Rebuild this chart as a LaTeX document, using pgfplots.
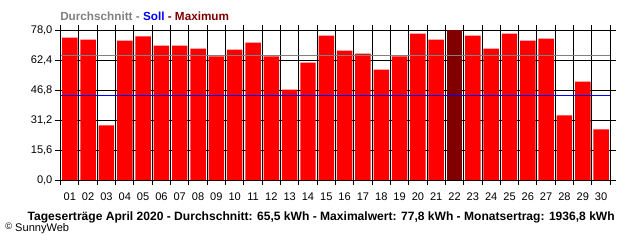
\documentclass[border=0pt]{standalone}
\usepackage{pgfplots}
\pgfplotsset{compat=1.18}
\usepackage{fontspec}
\setmainfont{Liberation Sans}
\definecolor{barred}{RGB}{255,0,0}
\definecolor{maxred}{RGB}{128,0,0}
\definecolor{avggray}{RGB}{128,128,128}
\definecolor{sollblue}{RGB}{0,0,255}
\begin{document}
\begin{tikzpicture}
\path[use as bounding box] (0,0) rectangle (480pt,180pt);
\begin{axis}[
  at={(45.5pt,45pt)}, anchor=south west,
  scale only axis, width=412.2pt, height=112.5pt,
  xmin=0.5, xmax=30.5, ymin=0, ymax=78,
  ybar, bar width=11.6pt, bar shift=0pt,
  axis line style={black, line width=0.75pt},
  xtick={1,...,30},
  xticklabels={01,02,03,04,05,06,07,08,09,10,11,12,13,14,15,16,17,18,19,20,21,22,23,24,25,26,27,28,29,30},
  minor xtick={0.5,1.5,...,30.5},
  xminorgrids, ymajorgrids,
  minor x grid style={black, line width=0.75pt},
  y grid style={black, line width=0.75pt},
  ytick={0,15.6,31.2,46.8,62.4,78},
  yticklabel={\pgfmathprintnumber[fixed,fixed zerofill,precision=1,use comma]{\tick}},
  tick align=outside,
  major x tick style={draw=none},
  minor x tick style={black, line width=0.75pt},
  minor tick length=3.75pt,
  major tick length=4.5pt,
  ytick style={black, line width=0.75pt},
  /pgf/number format/assume math mode=true,
  tick label style={font=\fontsize{8.3pt}{9pt}\selectfont, inner sep=0pt},
  xticklabel style={anchor=north, yshift=-5.25pt},
  yticklabel style={anchor=east, xshift=-1.5pt},
  axis on top=false,
]
\addplot[fill=barred, draw=none] coordinates {
(1,74.1) (2,73.0) (3,28.4) (4,72.5) (5,74.7) (6,69.9) (7,69.9) (8,68.3) (9,64.3) (10,67.8)
(11,71.5) (12,64.3) (13,47.0) (14,61.1) (15,75.1) (16,67.3) (17,65.7) (18,57.4) (19,64.3) (20,76.1)
(21,73.0) (23,75.1) (24,68.3) (25,76.1) (26,72.5) (27,73.5) (28,33.6) (29,51.2) (30,26.3)};
\addplot[fill=maxred, draw=none] coordinates {(22,77.8)};
\addplot[sharp plot, avggray, line width=0.9pt] coordinates {(0.5,64.9) (30.5,64.9)};
\addplot[sharp plot, sollblue, line width=0.9pt] coordinates {(0.5,44.0) (30.5,44.0)};
\end{axis}
\node[anchor=west, inner sep=0pt, font=\bfseries\fontsize{8.8pt}{10pt}\selectfont] at (45pt,167.6pt)
  {\textcolor{avggray}{Durchschnitt -} \textcolor{sollblue}{Soll} \textcolor{maxred}{- Maximum}};
\node[anchor=east, inner sep=0pt, font=\bfseries\fontsize{9.05pt}{10pt}\selectfont] at (461.3pt,17.2pt)
  {Tageserträge April 2020 - Durchschnitt: 65,5 kWh - Maximalwert: 77,8 kWh - Monatsertrag: 1936,8 kWh};
\node[anchor=west, inner sep=0pt, font=\fontsize{8.3pt}{9pt}\selectfont] at (3.75pt,8.6pt)
  {\raisebox{0.3ex}{\scriptsize ©} SunnyWeb};
\end{tikzpicture}
\end{document}
